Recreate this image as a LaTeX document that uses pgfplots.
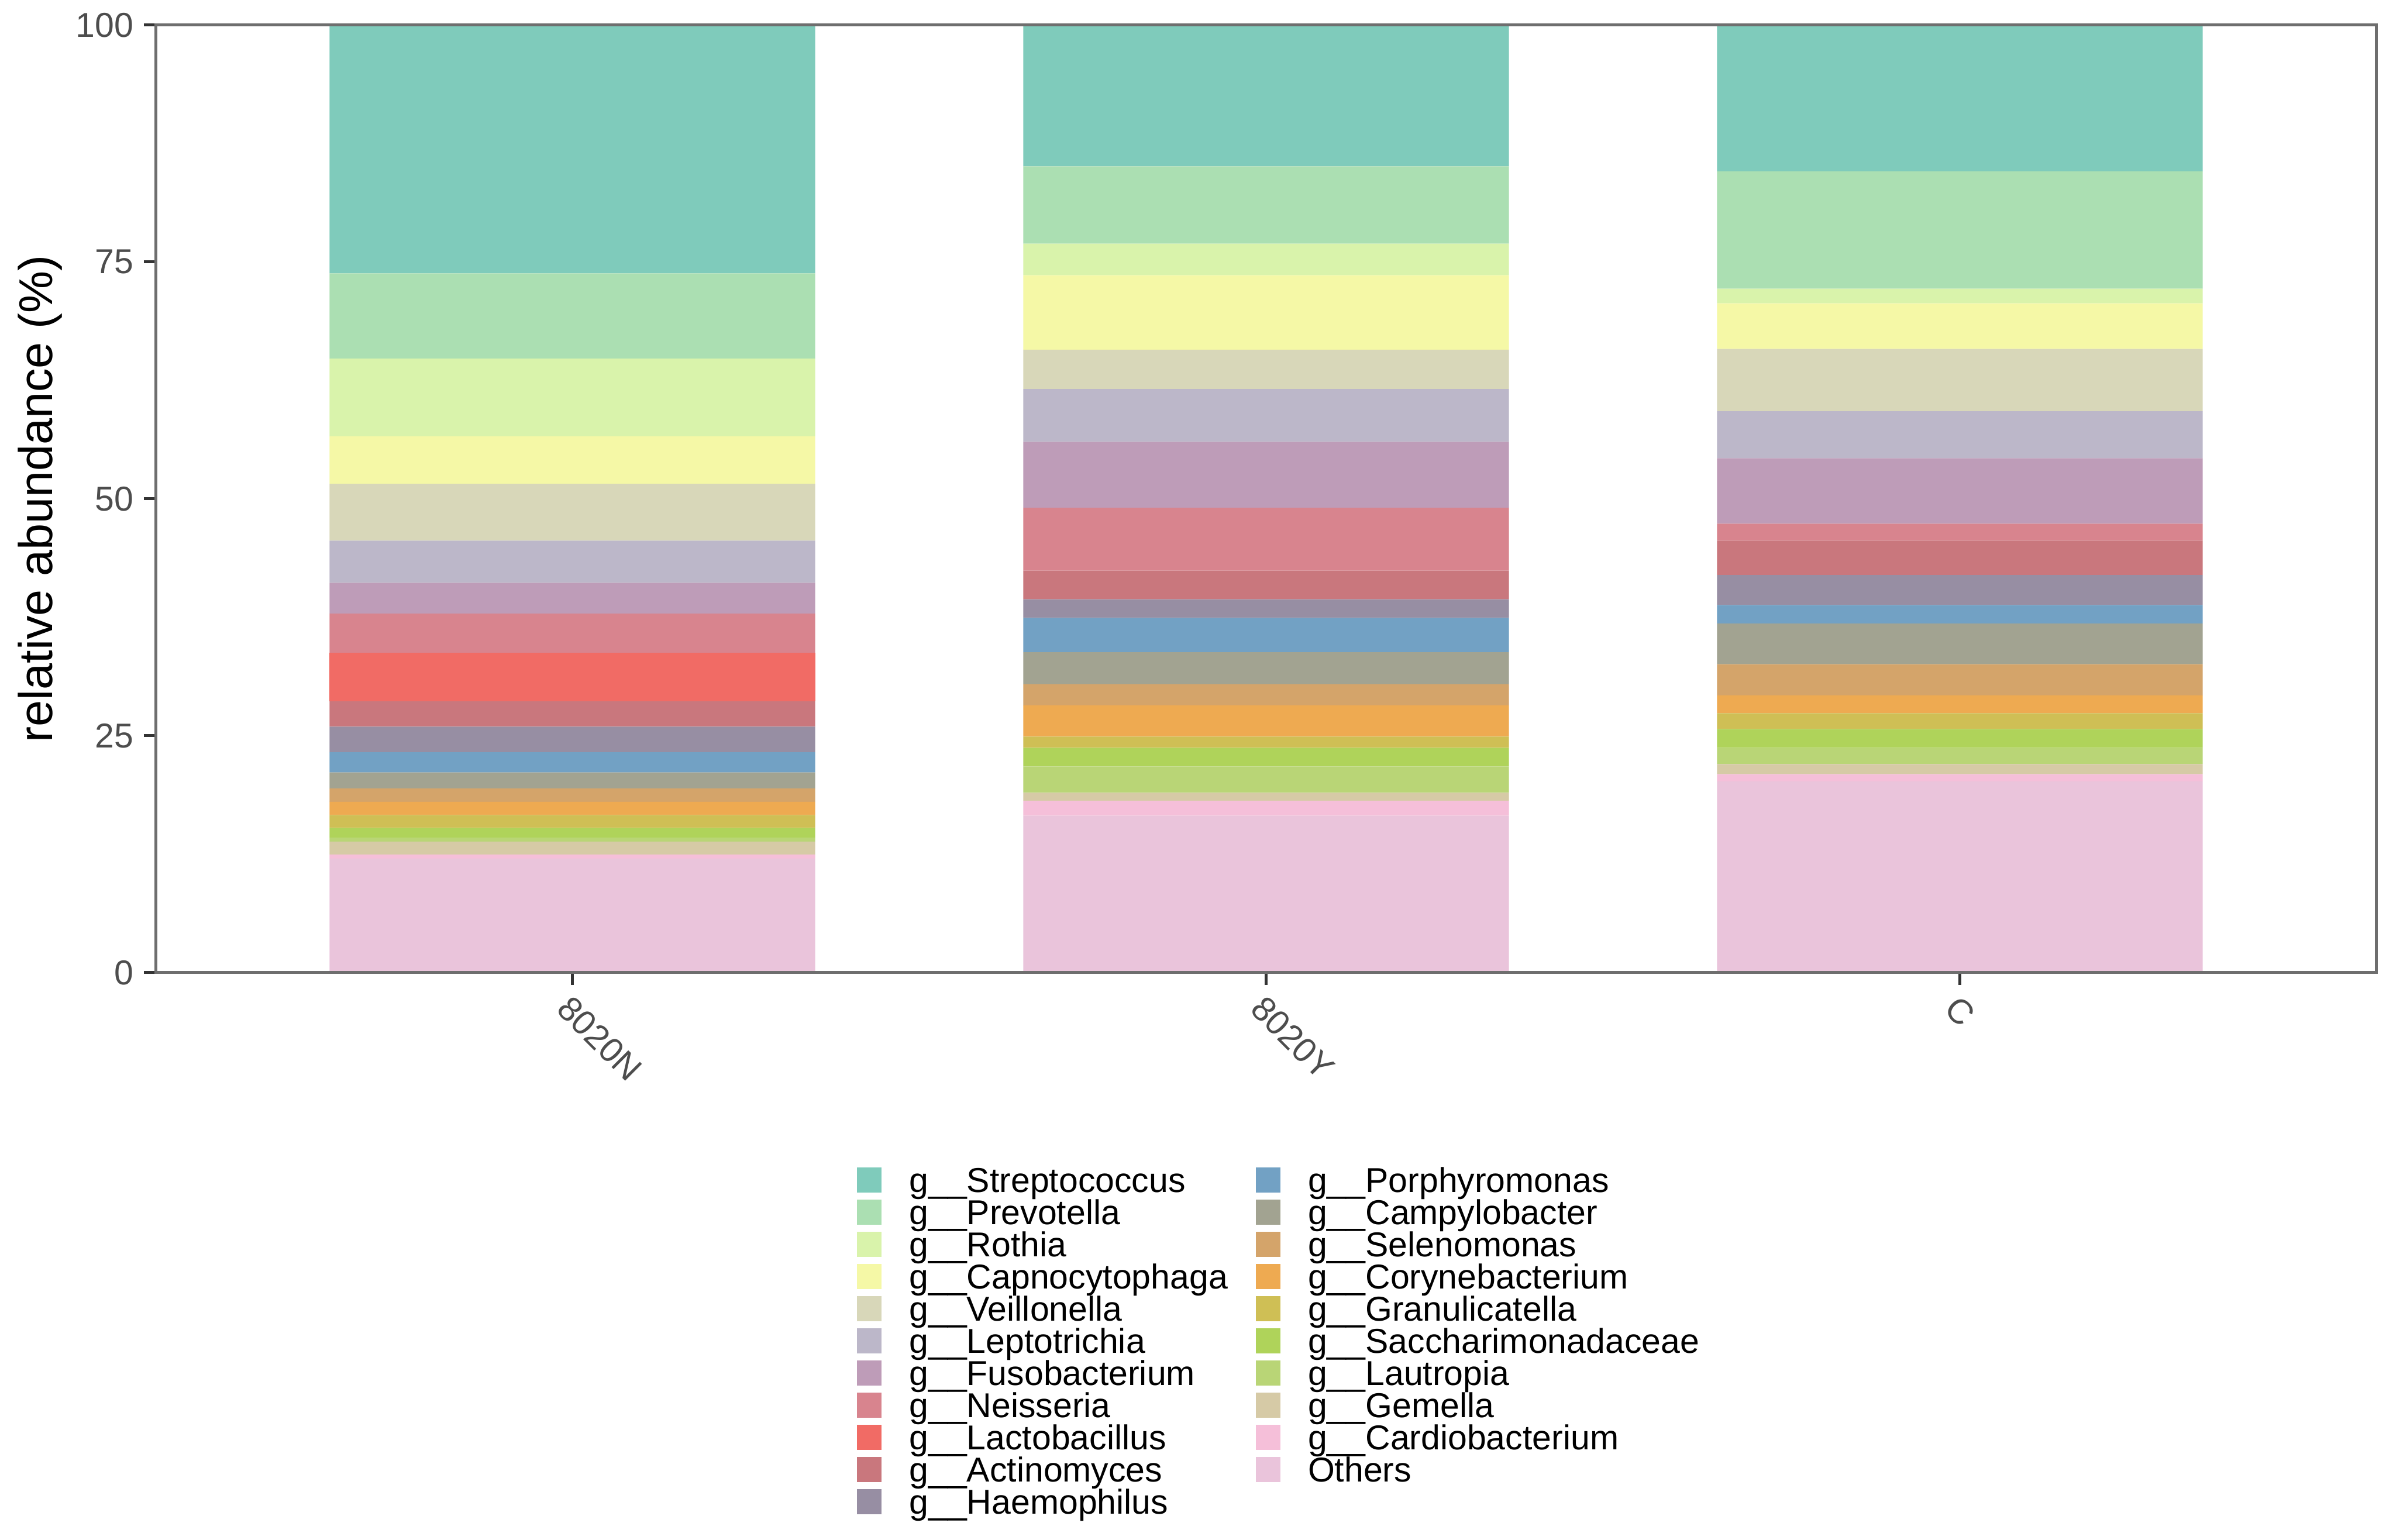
\documentclass[border=0pt]{standalone}
\usepackage{fontspec}
\setmainfont{Liberation Sans}
\usepackage{pgfplots}
\usepackage{pgfplotstable}
\pgfplotsset{compat=1.18}

% colours (alpha-blended look of the original)
\definecolor{cStrep}{HTML}{7FCBBB}
\definecolor{cPrevo}{HTML}{ABDFB2}
\definecolor{cRothia}{HTML}{D9F3AB}
\definecolor{cCapno}{HTML}{F5F8A6}
\definecolor{cVeillo}{HTML}{D8D7B9}
\definecolor{cLepto}{HTML}{BCB7C9}
\definecolor{cFuso}{HTML}{BE9CB8}
\definecolor{cNeisseria}{HTML}{D8848E}
\definecolor{cLacto}{HTML}{F16B65}
\definecolor{cActino}{HTML}{C9777D}
\definecolor{cHaemo}{HTML}{978EA3}
\definecolor{cPorphyro}{HTML}{72A1C4}
\definecolor{cCampylo}{HTML}{A2A391}
\definecolor{cSeleno}{HTML}{D4A46A}
\definecolor{cCoryne}{HTML}{EEAA51}
\definecolor{cGranuli}{HTML}{CFBF55}
\definecolor{cSacchar}{HTML}{AFD35A}
\definecolor{cLautropia}{HTML}{B9D576}
\definecolor{cGemella}{HTML}{D6CAA6}
\definecolor{cCardio}{HTML}{F5BFD9}
\definecolor{cOthers}{HTML}{EAC4DB}
\definecolor{axgray}{HTML}{6E6E6E}
\definecolor{tickgray}{HTML}{333333}
\definecolor{ticktext}{HTML}{4D4D4D}

% relative abundance (%), one row per sample, bottom to top
\pgfplotstableread{
idx Others Cardio Gemella Lautropia Sacchar Granuli Coryne Seleno Campylo Porphyro Haemo Actino Lacto Neisseria Fuso Lepto Veillo Capno Rothia Prevo Strep
0 12.05 0.41 1.38 0.41 1.02 1.38 1.38 1.40 1.71 2.12 2.70 2.68 5.10 4.16 3.25 4.45 6.00 5.00 8.20 9.00 26.20
1 16.56 1.58 0.85 2.78 1.95 1.20 3.28 2.24 3.38 3.62 1.96 3.03 0.00 6.63 6.97 5.57 4.15 7.85 3.34 8.16 14.90
2 20.20 0.75 1.07 1.70 1.99 1.67 1.89 3.29 4.29 1.95 3.16 3.64 0.00 1.79 6.90 4.96 6.57 4.82 1.54 12.40 15.42
}\datatable

\pgfplotsset{
  keysq/.style={legend image code/.code={\fill[##1] (0pt,-4.3pt) rectangle (8.4pt,4.3pt);}},
}

\begin{document}
\begin{tikzpicture}
\path[use as bounding box] (-53.4pt,-194pt) rectangle (764.8pt,332.6pt);
\begin{axis}[
  at={(0,0)}, anchor=south west,
  scale only axis, width=759pt, height=324pt,
  ybar stacked, bar width=0.7,
  xmin=-0.6, xmax=2.6, ymin=0, ymax=100,
  xtick={0,1,2}, xticklabels={8020N,8020Y,C},
  ytick={0,25,50,75,100},
  tick pos=left, tick align=outside,
  major tick length=4.2pt,
  major tick style={draw=tickgray, line width=1pt},
  axis line style={draw=axgray, line width=1pt},
  axis on top,
  /pgf/number format/assume math mode=true,
  tick label style={font=\fontsize{11.8}{14}\selectfont, text=ticktext},
  x tick label style={rotate=-45, anchor=north west, inner sep=2pt},
  ylabel={relative abundance (\%)},
  ylabel style={font=\fontsize{16.2}{19}\selectfont, at={(axis description cs:-0.0522,0.5)}, anchor=center},
  legend columns=2,
  legend cell align=left,
  legend style={
    at={(axis description cs:0.3154,-0.2012)}, anchor=north west,
    draw=none, fill=none, inner sep=0pt,
    column sep=9.5pt, row sep=0pt,
    nodes={inner sep=0pt, text height=9.8pt, text depth=1.2pt, font=\fontsize{11.8}{13}\selectfont},
  },
]
\pgfplotsinvokeforeach{Others,Cardio,Gemella,Lautropia,Sacchar,Granuli,Coryne,Seleno,Campylo,Porphyro,Haemo,Actino,Lacto,Neisseria,Fuso,Lepto,Veillo,Capno,Rothia,Prevo,Strep}{
  \addplot[fill=c#1, draw=none, forget plot] table[x=idx, y=#1] {\datatable};
}

% legend, filled row by row to read column by column
\addlegendimage{keysq, fill=cStrep, draw=none}\addlegendentry{g\_\_Streptococcus}
\addlegendimage{keysq, fill=cPorphyro, draw=none}\addlegendentry{g\_\_Porphyromonas}
\addlegendimage{keysq, fill=cPrevo, draw=none}\addlegendentry{g\_\_Prevotella}
\addlegendimage{keysq, fill=cCampylo, draw=none}\addlegendentry{g\_\_Campylobacter}
\addlegendimage{keysq, fill=cRothia, draw=none}\addlegendentry{g\_\_Rothia}
\addlegendimage{keysq, fill=cSeleno, draw=none}\addlegendentry{g\_\_Selenomonas}
\addlegendimage{keysq, fill=cCapno, draw=none}\addlegendentry{g\_\_Capnocytophaga}
\addlegendimage{keysq, fill=cCoryne, draw=none}\addlegendentry{g\_\_Corynebacterium}
\addlegendimage{keysq, fill=cVeillo, draw=none}\addlegendentry{g\_\_Veillonella}
\addlegendimage{keysq, fill=cGranuli, draw=none}\addlegendentry{g\_\_Granulicatella}
\addlegendimage{keysq, fill=cLepto, draw=none}\addlegendentry{g\_\_Leptotrichia}
\addlegendimage{keysq, fill=cSacchar, draw=none}\addlegendentry{g\_\_Saccharimonadaceae}
\addlegendimage{keysq, fill=cFuso, draw=none}\addlegendentry{g\_\_Fusobacterium}
\addlegendimage{keysq, fill=cLautropia, draw=none}\addlegendentry{g\_\_Lautropia}
\addlegendimage{keysq, fill=cNeisseria, draw=none}\addlegendentry{g\_\_Neisseria}
\addlegendimage{keysq, fill=cGemella, draw=none}\addlegendentry{g\_\_Gemella}
\addlegendimage{keysq, fill=cLacto, draw=none}\addlegendentry{g\_\_Lactobacillus}
\addlegendimage{keysq, fill=cCardio, draw=none}\addlegendentry{g\_\_Cardiobacterium}
\addlegendimage{keysq, fill=cActino, draw=none}\addlegendentry{g\_\_Actinomyces}
\addlegendimage{keysq, fill=cOthers, draw=none}\addlegendentry{Others}
\addlegendimage{keysq, fill=cHaemo, draw=none}\addlegendentry{g\_\_Haemophilus}
\end{axis}
\end{tikzpicture}
\end{document}
